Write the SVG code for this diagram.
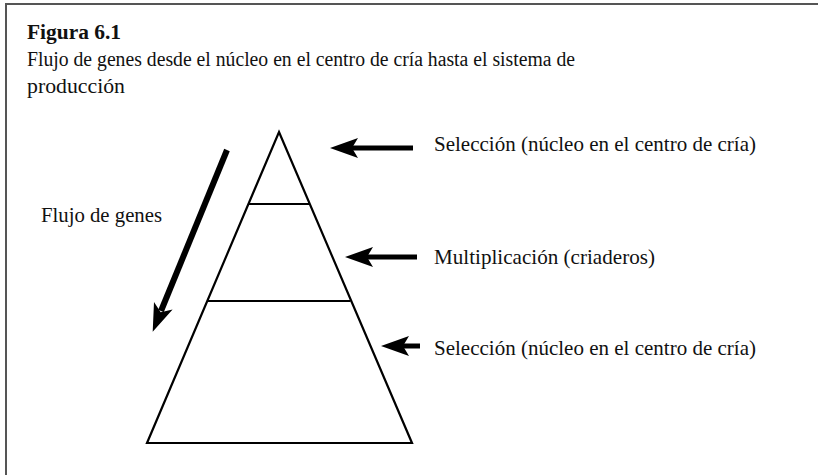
<svg xmlns="http://www.w3.org/2000/svg" width="818" height="475" viewBox="0 0 818 475">
<style>
text{font-family:"Liberation Serif","DejaVu Serif",serif;fill:#111}
.t{font-size:20px}
.b{font-size:20px;font-weight:bold}
.l{font-size:21px}
.frame{stroke:#555;stroke-width:2;fill:none}
.pyr{stroke:#000;stroke-width:2.2;fill:none;stroke-linejoin:miter}
.shaft{stroke:#000;stroke-width:5;fill:none}
.head{fill:#000;stroke:none}
</style>
<rect x="0" y="0" width="818" height="475" fill="#fff"/>
<g id="frame">
<path class="frame" d="M6,475 V4 H818"/>
</g>
<g id="title">
<text class="b" x="27" y="39" textLength="94" lengthAdjust="spacingAndGlyphs">Figura 6.1</text>
<text class="t" x="27" y="66" textLength="548" lengthAdjust="spacingAndGlyphs">Flujo de genes desde el núcleo en el centro de cría hasta el sistema de</text>
<text class="t" x="27" y="93" textLength="98" lengthAdjust="spacingAndGlyphs">producción</text>
</g>
<g id="pyramid">
<path class="pyr" d="M279,132 L412,443 L147,443 Z"/>
<line class="pyr" x1="248.5" y1="204" x2="309.5" y2="204"/>
<line class="pyr" x1="207.5" y1="301" x2="350.5" y2="301"/>
</g>
<g id="label-top">
<text class="l" x="434" y="151" textLength="322" lengthAdjust="spacingAndGlyphs">Selección (núcleo en el centro de cría)</text>
</g>
<g id="label-mid">
<text class="l" x="434" y="264" textLength="221" lengthAdjust="spacingAndGlyphs">Multiplicación (criaderos)</text>
</g>
<g id="label-bot">
<text class="l" x="434" y="355" textLength="322" lengthAdjust="spacingAndGlyphs">Selección (núcleo en el centro de cría)</text>
</g>
<g id="label-flow">
<text class="l" x="41" y="222" textLength="121" lengthAdjust="spacingAndGlyphs">Flujo de genes</text>
</g>
<g id="connectors">
<line class="shaft" x1="352" y1="148" x2="413" y2="148"/>
<path class="head" d="M330,148 L358,138 L352,148 L358,158 Z"/>
<line class="shaft" x1="366" y1="257" x2="417" y2="257"/>
<path class="head" d="M345,257 L373,247 L367,257 L373,267 Z"/>
<line class="shaft" x1="403" y1="346" x2="420" y2="346"/>
<path class="head" d="M381,346 L409,336 L403,346 L409,356 Z"/>
<line class="shaft" style="stroke-width:6" x1="227" y1="150" x2="161" y2="311"/>
<path class="head" d="M152.7,331.7 L154,302 L160.7,312.3 L172.6,309.6 Z"/>
</g>
</svg>
